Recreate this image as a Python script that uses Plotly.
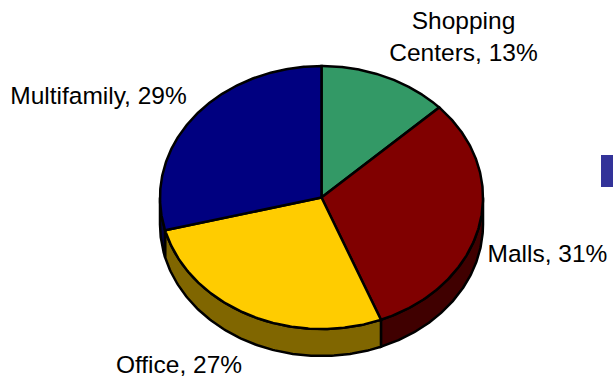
import numpy as np
import plotly.graph_objects as go

# Portfolio shares, clockwise from twelve o'clock
categories = ["Shopping Centers", "Malls", "Office", "Multifamily"]
shares = [13, 31, 27, 29]
top_colors = ["#339966", "#800000", "#FFCC00", "#000080"]
wall_colors = ["#1A4D33", "#400000", "#806600", "#000040"]

# Display text and anchor for each slice label
label_lines = ["Shopping<br>Centers", "Malls", "Office", "Multifamily"]
label_x = [463.5, 547.5, 179, 98.5]
label_y = [38.5, 256, 367, 98]

# Pie projection, in canvas pixels
CX, CY, RX, RY, DEPTH = 321.5, 197.5, 161.5, 131.5, 27
OUTLINE = dict(color="black", width=2.5)


def rim(angles, drop=0.0):
    """Project clockwise-from-top angles on to the tilted ellipse."""
    rad = np.radians(angles)
    return CX + RX * np.sin(rad), CY - RY * np.cos(rad) + drop


fig = go.Figure()
edges = np.concatenate([[0], np.cumsum(shares)]) * 3.6

# Side walls come first so the top faces overlap them
for start, end, wall in zip(edges[:-1], edges[1:], wall_colors):
    lo, hi = max(start, 90), min(end, 270)
    if lo >= hi:
        continue
    arc = np.linspace(lo, hi, 120)
    x_up, y_up = rim(arc)
    x_dn, y_dn = rim(arc[::-1], DEPTH)
    fig.add_trace(go.Scatter(
        x=np.concatenate([x_up, x_dn, x_up[:1]]),
        y=np.concatenate([y_up, y_dn, y_up[:1]]),
        mode="lines", fill="toself", fillcolor=wall, line=OUTLINE,
        hoverinfo="skip", showlegend=False,
    ))

# Top faces of the slices
for name, start, end, face in zip(categories, edges[:-1], edges[1:], top_colors):
    arc = np.linspace(start, end, 200)
    x_arc, y_arc = rim(arc)
    fig.add_trace(go.Scatter(
        x=np.concatenate([[CX], x_arc, [CX]]),
        y=np.concatenate([[CY], y_arc, [CY]]),
        mode="lines", fill="toself", fillcolor=face, line=OUTLINE,
        name=name, showlegend=False,
    ))

# Slice labels
fig.add_trace(go.Scatter(
    x=label_x, y=label_y, mode="text",
    text=[f"{t}, {v}%" for t, v in zip(label_lines, shares)],
    textposition="middle center",
    textfont=dict(family="Liberation Sans, Arial, sans-serif", size=24.5, color="black"),
    hoverinfo="skip", showlegend=False, cliponaxis=False,
))

# Sliver of a legend swatch at the right-hand edge
fig.add_shape(type="rect", x0=601, x1=613, y0=155, y1=187,
              fillcolor="#333399", line_width=0, layer="above")

fig.update_layout(
    width=613, height=376,
    margin=dict(l=0, r=0, t=0, b=0),
    paper_bgcolor="white", plot_bgcolor="white",
    xaxis=dict(range=[0, 613], visible=False, fixedrange=True),
    yaxis=dict(range=[376, 0], visible=False, fixedrange=True),
)
fig.write_html("out.html")
